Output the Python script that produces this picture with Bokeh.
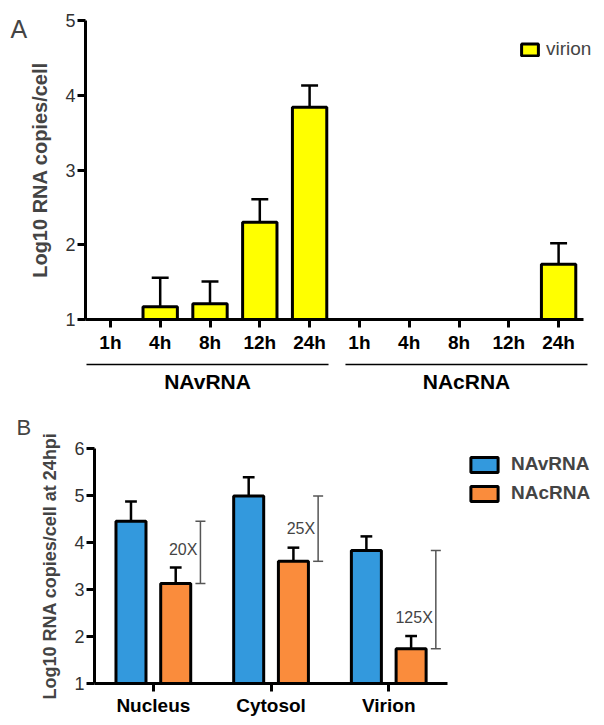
from bokeh.plotting import figure
from bokeh.models import Range1d, FixedTicker, Legend, LegendItem, Label, ColumnDataSource
from bokeh.layouts import column
from bokeh.embed import file_html
from bokeh.resources import INLINE
from bokeh.core.properties import value

FONT = "Liberation Sans"

# ---------------- Panel A data ----------------
time_points = ["1h", "4h", "8h", "12h", "24h"]
rna_groups = ["NAvRNA", "NAcRNA"]
virion_navrna = [1.0, 1.17, 1.21, 2.30, 3.84]
virion_navrna_sd = [0.0, 0.39, 0.30, 0.31, 0.29]
virion_nacrna = [1.0, 1.0, 1.0, 1.0, 1.74]
virion_nacrna_sd = [0.0, 0.0, 0.0, 0.0, 0.28]
y_ticks_a = [1, 2, 3, 4, 5]

# ---------------- Panel B data ----------------
compartments = ["Nucleus", "Cytosol", "Virion"]
b_navrna = [4.45, 4.99, 3.83]
b_navrna_sd = [0.42, 0.40, 0.30]
b_nacrna = [3.13, 3.60, 1.74]
b_nacrna_sd = [0.34, 0.29, 0.27]
fold_labels = ["20X", "25X", "125X"]
fold_label_y = [3.85, 4.30, 2.40]
y_ticks_b = [1, 2, 3, 4, 5, 6]

YELLOW = "#ffff00"
BLUE = "#3399dd"
ORANGE = "#fa8c3c"

FIG_W = 600


def style_axis(ax, size, bold, color="black", tick_out=8, standoff=4):
    ax.axis_line_width = 3
    ax.axis_line_color = "black"
    ax.major_tick_line_width = 3
    ax.major_tick_line_color = "black"
    ax.major_tick_out = tick_out
    ax.major_tick_in = 0
    ax.minor_tick_line_color = None
    ax.major_label_text_font = FONT
    ax.major_label_text_font_size = size
    ax.major_label_text_font_style = "bold" if bold else "normal"
    ax.major_label_text_color = color
    ax.major_label_standoff = standoff


def new_fig(height, xr, yr):
    p = figure(width=FIG_W, height=height, x_range=Range1d(*xr), y_range=Range1d(*yr),
               min_border_left=0, min_border_right=0, min_border_top=0, min_border_bottom=0,
               output_backend="svg", toolbar_location=None)
    p.outline_line_color = None
    p.grid.visible = False
    return p


# ================= Panel A =================
A_H = 398
ax_ppu = 49.8                      # px per category
ay_ppu = (319 - 20) / 4.0          # px per log unit
ax0 = -0.5 - 85 / ax_ppu
ay1 = 5 + 20 / ay_ppu
pA = new_fig(A_H, (ax0, ax0 + FIG_W / ax_ppu), (ay1 - A_H / ay_ppu, ay1))

n_t = len(time_points)
xs = list(range(n_t * len(rna_groups)))
vals = virion_navrna + virion_nacrna
sds = virion_navrna_sd + virion_nacrna_sd
tick_labels = time_points * len(rna_groups)

srcA = ColumnDataSource(dict(x=xs, top=vals))
barsA = pA.vbar(x="x", top="top", bottom=1, width=0.69, source=srcA,
                fill_color=YELLOW, line_color="black", line_width=3)

ex = [x for x, s in zip(xs, sds) if s > 0]
ey0 = [v for v, s in zip(vals, sds) if s > 0]
ey1 = [v + s for v, s in zip(vals, sds) if s > 0]
pA.segment(x0=ex, y0=ey0, x1=ex, y1=ey1, line_color="black", line_width=2.5)
pA.segment(x0=[x - 0.17 for x in ex], y0=ey1, x1=[x + 0.17 for x in ex], y1=ey1,
           line_color="black", line_width=2.5)

group_pad = [(-0.48, 0.38), (-0.28, 0.58)]
gx0 = [g * n_t + group_pad[g][0] for g in range(len(rna_groups))]
gx1 = [g * n_t + n_t - 1 + group_pad[g][1] for g in range(len(rna_groups))]
pA.segment(x0=gx0, y0=[0.398] * 2, x1=gx1, y1=[0.398] * 2, line_color="black", line_width=1.5)
pA.text(x=[(a + b) / 2 for a, b in zip(gx0, gx1)], y=[0.175] * 2, text=rna_groups,
        text_font=value(FONT), text_font_style="bold", text_font_size="21px",
        text_align="center", text_baseline="middle", text_color="black")

xa = pA.xaxis[0]
xa.fixed_location = 1
xa.bounds = (-0.5, 9.5)
xa.ticker = FixedTicker(ticks=xs)
xa.major_label_overrides = {x: lab for x, lab in zip(xs, tick_labels)}
style_axis(xa, "19px", True, tick_out=8, standoff=4)

ya = pA.yaxis[0]
ya.fixed_location = -0.5
ya.bounds = (1, 5)
ya.ticker = FixedTicker(ticks=y_ticks_a)
style_axis(ya, "18px", False, color="#333333", tick_out=8, standoff=2)
ya.axis_label = "Log10 RNA copies/cell"
ya.axis_label_text_font = FONT
ya.axis_label_text_font_size = "20px"
ya.axis_label_text_font_style = "bold"
ya.axis_label_standoff = 11

legA = Legend(items=[LegendItem(label="virion", renderers=[barsA])], location=(519, 338),
              glyph_width=21, glyph_height=15, label_standoff=6, padding=0, margin=0,
              border_line_color=None, background_fill_alpha=0,
              label_text_font=FONT, label_text_font_size="19px")
pA.add_layout(legA)

pA.add_layout(Label(x=10, y=A_H - 28, x_units="screen", y_units="screen", text="A",
                    text_font=FONT, text_font_size="25px", text_baseline="alphabetic"))

# ================= Panel B =================
B_H = 319
B_TOP = A_H
bx_ppu = 117.7
by_ppu = 47.0
bx0 = -0.5 - 94 / bx_ppu
by0 = 1 - (B_TOP + B_H - 683) / by_ppu
pB = new_fig(B_H, (bx0, bx0 + FIG_W / bx_ppu), (by0, by0 + B_H / by_ppu))

bx = list(range(len(compartments)))
dodge = 0.19
bw = 0.255
barsV = pB.vbar(x=[x - dodge for x in bx], top=b_navrna, bottom=1, width=bw,
                fill_color=BLUE, line_color="black", line_width=3)
barsC = pB.vbar(x=[x + dodge for x in bx], top=b_nacrna, bottom=1, width=bw,
                fill_color=ORANGE, line_color="black", line_width=3)

for off, tops, sd in [(-dodge, b_navrna, b_navrna_sd), (dodge, b_nacrna, b_nacrna_sd)]:
    xx = [x + off for x in bx]
    y1 = [t + s for t, s in zip(tops, sd)]
    pB.segment(x0=xx, y0=tops, x1=xx, y1=y1, line_color="black", line_width=2.5)
    pB.segment(x0=[x - 0.05 for x in xx], y0=y1, x1=[x + 0.05 for x in xx], y1=y1,
               line_color="black", line_width=2.5)

brx = [x + 0.40 for x in bx]
pB.segment(x0=brx, y0=b_nacrna, x1=brx, y1=b_navrna, line_color="#555555", line_width=1.5)
for ys in (b_nacrna, b_navrna):
    pB.segment(x0=[x - 0.0425 for x in brx], y0=ys, x1=[x + 0.0425 for x in brx], y1=ys,
               line_color="#555555", line_width=1.5)
pB.text(x=brx, y=fold_label_y, text=fold_labels, x_offset=-3,
        text_font=value(FONT), text_font_size="16px", text_color="#444444",
        text_align="right", text_baseline="middle")

xb = pB.xaxis[0]
xb.fixed_location = 1
xb.bounds = (-0.5, 2.5)
xb.ticker = FixedTicker(ticks=bx)
xb.major_label_overrides = {x: lab for x, lab in zip(bx, compartments)}
style_axis(xb, "19px", True, tick_out=8, standoff=3)

yb = pB.yaxis[0]
yb.fixed_location = -0.5
yb.bounds = (1, 6)
yb.ticker = FixedTicker(ticks=y_ticks_b)
style_axis(yb, "18px", False, color="#333333", tick_out=8, standoff=2)
yb.axis_label = "Log10 RNA copies/cell at 24hpi"
yb.axis_label_text_font = FONT
yb.axis_label_text_font_size = "18px"
yb.axis_label_text_font_style = "bold"
yb.axis_label_standoff = 11

legB = Legend(items=[LegendItem(label="NAvRNA", renderers=[barsV]),
                     LegendItem(label="NAcRNA", renderers=[barsC])],
              location=(467, 213), glyph_width=34, glyph_height=19, label_standoff=10,
              spacing=7, padding=0, margin=0, border_line_color=None, background_fill_alpha=0,
              label_text_font=FONT, label_text_font_size="19px", label_text_font_style="bold")
pB.add_layout(legB)

pB.add_layout(Label(x=16, y=B_H - (427 - B_TOP), x_units="screen", y_units="screen", text="B",
                    text_font=FONT, text_font_size="22px", text_baseline="alphabetic"))

layout = column(pA, pB, spacing=0)
open("out.html", "w").write(file_html(layout, INLINE))
